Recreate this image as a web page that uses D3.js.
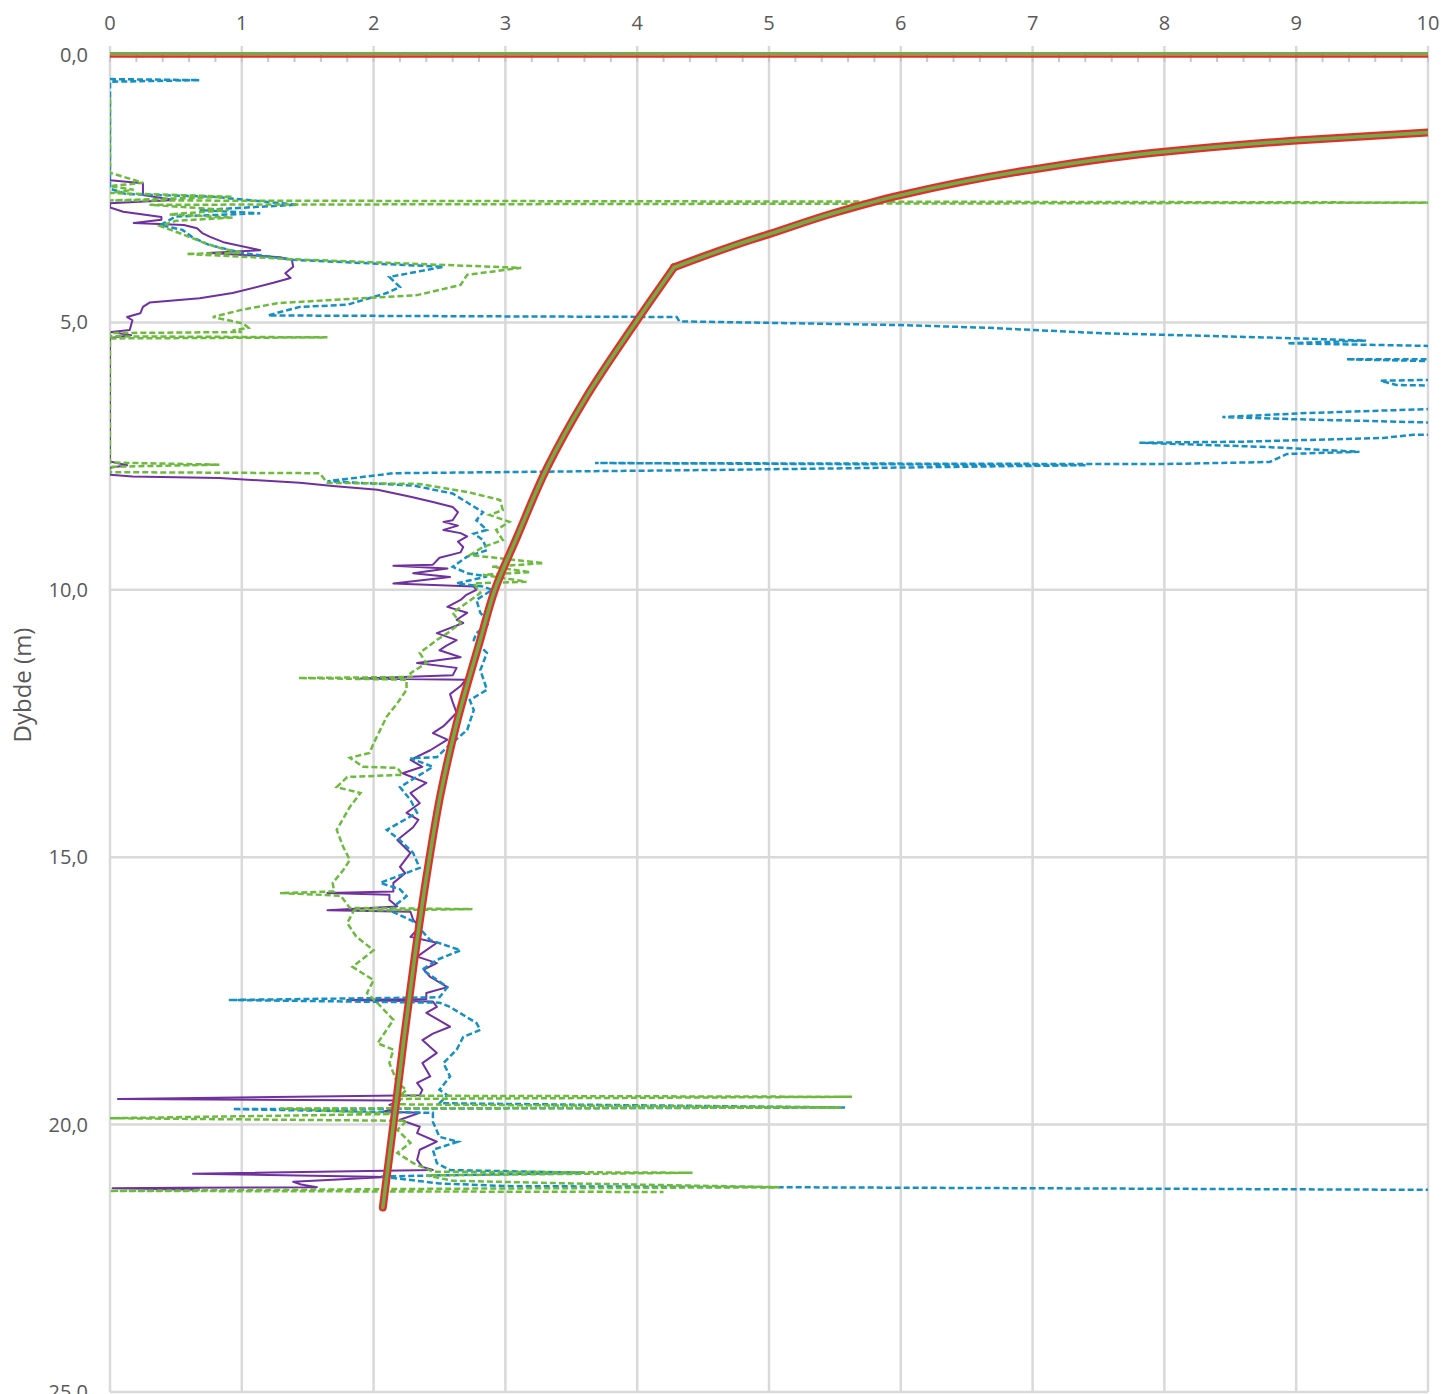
<!DOCTYPE html>
<html><head><meta charset="utf-8">
<script src="https://cdn.jsdelivr.net/npm/d3@7"></script>
<style>body{margin:0;background:#fff;}svg{display:block;}</style>
</head><body>
<script>
// ---- data: [x, depth(m)] ----
const xTicks = [0,1,2,3,4,5,6,7,8,9,10];
const yTicks = [0,5,10,15,20,25];
const yTickLabels = ["0,0","5,0","10,0","15,0","20,0","25,0"];
const yTitle = "Dybde (m)";

const purple = [[0,0.8],[0,2.34],[0.25,2.4],[0.25,2.62],[0.49,2.71],[0,2.77],[0,2.85],[0.1,2.93],[0.39,3.03],[0.39,3.08],[0.18,3.14],[0.56,3.18],[0.66,3.24],[0.7,3.33],[0.76,3.4],[0.86,3.5],[1.14,3.65],[0.74,3.7],[1.29,3.78],[1.38,3.83],[1.39,3.96],[1.33,4.08],[1.37,4.17],[1.24,4.26],[0.93,4.45],[0.68,4.55],[0.3,4.63],[0.25,4.71],[0.23,4.83],[0.13,4.9],[0.17,4.96],[0.15,5.14],[0.01,5.18],[0.16,5.24],[0,5.29],[0,7.6],[0.13,7.67],[0,7.72],[0,7.85],[0.17,7.88],[0.83,7.91],[1.44,8.0],[1.69,8.06],[2.03,8.13],[2.28,8.26],[2.45,8.36],[2.6,8.45],[2.64,8.55],[2.6,8.7],[2.53,8.73],[2.64,8.8],[2.53,8.88],[2.66,8.94],[2.71,9.0],[2.64,9.1],[2.68,9.2],[2.66,9.3],[2.5,9.4],[2.45,9.53],[2.15,9.55],[2.56,9.6],[2.3,9.69],[2.58,9.76],[2.15,9.88],[2.76,9.94],[2.78,10.0],[2.7,10.1],[2.66,10.19],[2.56,10.32],[2.71,10.43],[2.63,10.56],[2.68,10.62],[2.48,10.81],[2.63,10.94],[2.55,11.05],[2.5,11.13],[2.66,11.26],[2.33,11.37],[2.63,11.46],[2.6,11.6],[1.9,11.66],[2.7,11.68],[2.66,11.8],[2.58,11.95],[2.6,12.1],[2.63,12.3],[2.53,12.55],[2.45,12.68],[2.56,12.8],[2.43,13.0],[2.28,13.18],[2.37,13.31],[2.22,13.43],[2.4,13.61],[2.28,13.8],[2.35,13.99],[2.25,14.17],[2.34,14.3],[2.3,14.44],[2.18,14.68],[2.28,14.92],[2.2,15.18],[2.24,15.3],[2.15,15.48],[2.15,15.64],[1.65,15.67],[2.12,15.7],[2.12,15.8],[2.18,15.92],[1.65,15.99],[2.28,16.02],[2.3,16.17],[2.35,16.3],[2.28,16.49],[2.48,16.6],[2.33,16.86],[2.48,16.98],[2.38,17.1],[2.43,17.24],[2.56,17.43],[2.4,17.54],[2.4,17.65],[1.8,17.67],[2.45,17.7],[2.48,17.8],[2.4,17.91],[2.58,18.17],[2.45,18.3],[2.37,18.42],[2.48,18.66],[2.37,18.85],[2.43,19.1],[2.33,19.22],[2.37,19.35],[2.35,19.45],[0.06,19.52],[2.2,19.55],[2.12,19.63],[2.2,19.69],[2.07,19.76],[2.35,19.78],[2.2,19.91],[2.35,20.04],[2.33,20.16],[2.48,20.32],[2.35,20.47],[2.33,20.66],[2.37,20.79],[2.45,20.85],[0.63,20.92],[2.1,20.98],[1.39,21.07],[1.45,21.12],[1.57,21.17],[0.53,21.18],[0.02,21.19],[0.68,21.22]];

const blue = [[0,0.45],[0.68,0.47],[0,0.5],[0,2.5],[0.08,2.56],[0.12,2.6],[0.78,2.65],[1.42,2.8],[0.68,2.9],[1.14,2.96],[0.5,3.02],[0.38,3.18],[0.55,3.27],[0.62,3.4],[0.75,3.55],[1.0,3.7],[1.39,3.83],[2.53,3.96],[2.12,4.15],[2.2,4.34],[2.1,4.45],[1.8,4.67],[1.44,4.71],[1.27,4.82],[1.2,4.87],[4.3,4.9],[4.32,4.98],[6.0,5.05],[6.65,5.1],[7.5,5.2],[8.9,5.29],[9.53,5.34],[8.93,5.39],[10,5.44],[11,5.55],[10.5,5.69],[9.38,5.69],[10.5,5.75],[11,5.95],[10.4,6.06],[9.64,6.09],[9.76,6.17],[10.5,6.2],[11,6.4],[10.5,6.58],[9.03,6.7],[8.44,6.77],[8.98,6.81],[10.5,6.9],[11,7.0],[10.3,7.1],[9.89,7.1],[9.66,7.16],[8.6,7.23],[7.81,7.25],[8.78,7.33],[9.48,7.42],[8.93,7.46],[8.8,7.61],[7.97,7.65],[3.68,7.63],[7.41,7.67],[4.55,7.76],[2.15,7.82],[1.65,7.97],[2.3,8.05],[2.6,8.2],[2.83,8.55],[2.78,8.7],[2.86,8.88],[2.76,8.95],[2.83,9.07],[2.86,9.26],[2.71,9.38],[2.6,9.57],[2.71,9.69],[2.86,9.75],[2.63,9.88],[2.83,9.94],[2.9,10.0],[2.78,10.19],[2.81,10.43],[2.88,10.62],[2.78,10.81],[2.76,10.94],[2.86,11.18],[2.81,11.5],[2.86,11.87],[2.73,12.06],[2.76,12.25],[2.71,12.62],[2.56,12.94],[2.48,13.13],[2.28,13.15],[2.45,13.31],[2.2,13.69],[2.28,13.93],[2.33,14.17],[2.1,14.49],[2.2,14.68],[2.3,14.92],[2.35,15.2],[2.05,15.48],[2.2,15.6],[2.25,15.73],[2.12,15.99],[2.3,16.2],[2.43,16.55],[2.66,16.74],[2.48,16.92],[2.37,17.1],[2.56,17.43],[2.5,17.62],[0.9,17.67],[2.5,17.72],[2.58,17.8],[2.78,18.1],[2.81,18.23],[2.68,18.36],[2.63,18.6],[2.53,18.85],[2.58,19.1],[2.5,19.35],[2.56,19.45],[2.5,19.6],[5.58,19.68],[0.93,19.71],[2.45,19.78],[2.45,19.95],[2.5,20.23],[2.64,20.32],[2.45,20.47],[2.48,20.72],[2.58,20.85],[3.6,20.9],[2.05,20.97],[2.5,21.1],[3.0,21.15],[10,21.22]];

const green = [[0,0.8],[0,2.2],[0.25,2.39],[0,2.45],[0.18,2.52],[0,2.58],[0.93,2.65],[0,2.72],[10.5,2.76],[0.3,2.8],[0.9,2.9],[0.45,2.98],[0.93,3.04],[0.5,3.1],[0.38,3.2],[0.55,3.35],[0.7,3.5],[0.85,3.62],[1.0,3.7],[0.58,3.72],[1.4,3.82],[3.12,3.98],[2.71,4.11],[2.66,4.3],[2.33,4.49],[1.69,4.58],[1.27,4.64],[0.99,4.77],[0.78,4.9],[1.01,5.02],[1.05,5.1],[0.93,5.15],[1.0,5.18],[0,5.2],[0,5.26],[1.65,5.28],[0,5.3],[0,7.62],[0.83,7.66],[0,7.7],[0,7.8],[1.59,7.82],[1.65,8.0],[2.35,8.02],[2.71,8.17],[2.96,8.32],[2.98,8.51],[2.88,8.6],[3.03,8.73],[2.93,8.88],[2.98,9.07],[2.83,9.2],[2.73,9.35],[3.29,9.5],[2.9,9.57],[3.19,9.67],[2.83,9.72],[3.16,9.85],[2.76,9.88],[2.81,10.06],[2.6,10.43],[2.66,10.62],[2.56,10.81],[2.48,10.94],[2.35,11.18],[2.4,11.37],[2.28,11.56],[2.3,11.63],[1.43,11.65],[2.25,11.68],[2.25,11.87],[2.18,12.12],[2.1,12.37],[2.05,12.62],[2.0,12.87],[1.97,13.05],[1.82,13.14],[1.92,13.31],[2.18,13.33],[2.22,13.46],[1.8,13.5],[1.72,13.69],[1.9,13.8],[1.82,14.06],[1.72,14.49],[1.77,14.81],[1.82,15.05],[1.77,15.24],[1.69,15.48],[1.7,15.64],[1.29,15.67],[1.75,15.72],[1.82,15.95],[2.75,15.97],[1.85,16.0],[1.8,16.23],[1.87,16.49],[2.0,16.74],[1.84,17.05],[2.0,17.3],[1.95,17.54],[2.03,17.73],[2.15,18.04],[2.03,18.48],[2.15,18.6],[2.12,18.85],[2.18,19.22],[2.25,19.35],[2.2,19.46],[5.63,19.48],[2.2,19.52],[2.15,19.62],[5.55,19.68],[1.29,19.7],[2.2,19.8],[0,19.88],[2.25,19.93],[2.18,20.1],[2.28,20.34],[2.18,20.53],[2.3,20.72],[2.45,20.88],[4.42,20.9],[2.4,20.95],[2.6,21.05],[3.5,21.1],[5.08,21.17],[2.5,21.2],[0,21.24],[4.2,21.26]];

// fitted design curve, two branches meeting at a kink
const fitUpper = [[10,1.45],[9,1.6],[8,1.81],[7,2.14],[6,2.62],[5.5,2.95],[5,3.35],[4.86,3.46],[4.6,3.68],[4.28,3.97]];
const fitLower = [[4.28,3.97],[4.0,4.96],[3.6,6.45],[3.32,7.7],[3.09,9.0],[2.92,10.0],[2.81,10.93],[2.63,12.5],[2.51,13.8],[2.41,15.23],[2.31,16.9],[2.23,18.4],[2.15,20.0],[2.07,21.55]];
const surface = [[0,0],[10,0]];

// ---- layout ----
const W = 1447, H = 1394;
const x = d3.scaleLinear().domain([0,10]).range([110,1428]);
const y = d3.scaleLinear().domain([0,25]).range([55,1392]);

const svg = d3.select("body").append("svg").attr("width",W).attr("height",H);
const font = "'Open Sans', 'Noto Sans', sans-serif";
const grid = "#d9d9d9";

svg.append("defs").append("clipPath").attr("id","clip")
  .append("rect").attr("x",x(0)).attr("y",y(0)-6).attr("width",x(10)-x(0)).attr("height",y(25)-y(0)+6);

// vertical gridlines
svg.append("g").selectAll("line").data(xTicks).join("line")
  .attr("x1",d=>x(d)).attr("x2",d=>x(d)).attr("y1",y(0)-9).attr("y2",y(25))
  .attr("stroke",grid).attr("stroke-width",2.5);
// horizontal gridlines
svg.append("g").selectAll("line").data(yTicks.slice(1)).join("line")
  .attr("x1",x(0)).attr("x2",x(10)).attr("y1",d=>y(d)).attr("y2",d=>y(d))
  .attr("stroke",grid).attr("stroke-width",2.5);
// minor ticks on top axis
svg.append("g").selectAll("line").data(d3.range(0,10.001,0.2)).join("line")
  .attr("x1",d=>x(d)).attr("x2",d=>x(d)).attr("y1",y(0)).attr("y2",y(0)+7)
  .attr("stroke","#c8c8c8").attr("stroke-width",2);

// top axis labels
svg.append("g").selectAll("text").data(xTicks).join("text")
  .attr("x",d=>x(d)).attr("y",30).attr("text-anchor","middle")
  .attr("font-family",font).attr("font-size",20).attr("fill","#595959").text(d=>d);
// y labels
svg.append("g").selectAll("text").data(yTicks).join("text")
  .attr("x",88).attr("y",d=>y(d)+7).attr("text-anchor","end")
  .attr("font-family",font).attr("font-size",20).attr("fill","#595959").text((d,i)=>yTickLabels[i]);
// y title
svg.append("text").attr("transform",`translate(31,685) rotate(-90)`)
  .attr("text-anchor","middle").attr("font-family",font).attr("font-size",24).attr("fill","#595959").text(yTitle);

const g = svg.append("g").attr("clip-path","url(#clip)");
const line = d3.line().x(d=>x(d[0])).y(d=>y(d[1]));

g.append("path").datum(purple).attr("d",line).attr("fill","none")
  .attr("stroke","#7030a0").attr("stroke-width",2).attr("stroke-linejoin","round");
g.append("path").datum(blue).attr("d",line).attr("fill","none")
  .attr("stroke","#1490c4").attr("stroke-width",2.5).attr("stroke-dasharray","6,3");
g.append("path").datum(green).attr("d",line).attr("fill","none")
  .attr("stroke","#6cbb3c").attr("stroke-width",2.5).attr("stroke-dasharray","6,3");

const curveLine = d3.line().x(d=>x(d[0])).y(d=>y(d[1])).curve(d3.curveMonotoneY);
const branches = [fitUpper, fitLower];
g.append("g").selectAll("path").data(branches).join("path").attr("d",curveLine).attr("fill","none")
  .attr("stroke","#e0302c").attr("stroke-width",8).attr("stroke-linecap","round").attr("stroke-linejoin","round");
g.append("g").selectAll("path").data(branches).join("path").attr("d",curveLine).attr("fill","none")
  .attr("stroke","#70ad47").attr("stroke-width",3.5).attr("stroke-linecap","round").attr("stroke-linejoin","round");

// surface line at depth 0 (green over red)
svg.append("path").datum(surface).attr("d",d3.line().x(d=>x(d[0])).y(d=>y(d[1])+1.5))
  .attr("stroke","#e0302c").attr("stroke-width",2.5).attr("fill","none");
svg.append("path").datum(surface).attr("d",d3.line().x(d=>x(d[0])).y(d=>y(d[1])-1.5))
  .attr("stroke","#70ad47").attr("stroke-width",3).attr("fill","none");
</script>
</body></html>
